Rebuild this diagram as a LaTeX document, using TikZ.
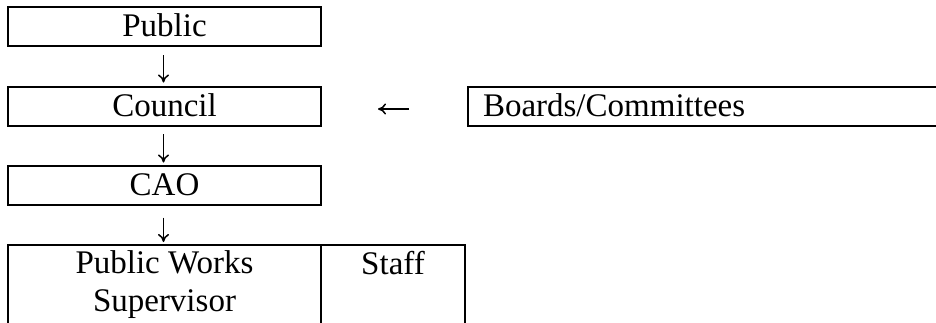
\documentclass[tikz,border=0pt]{standalone}
\usepackage{fontspec}
\setmainfont{Liberation Serif}
\usetikzlibrary{arrows.meta}
\begin{document}
\begin{tikzpicture}[x=1pt,y=-1pt,
  box/.style={draw=black,line width=2pt,inner sep=0pt,outer sep=0pt,
    text height=30pt,text depth=9pt,minimum height=39pt},
  txt/.style={inner sep=0pt,outer sep=0pt},
  arr/.style={line width=1.5pt,-{To[length=8pt,width=11pt]}},
  every node/.style={font=\fontsize{33}{38}\selectfont}]
\useasboundingbox (0,0) rectangle (936,322);
\clip (0,0) rectangle (936,322);
\node[box,minimum width=313pt] (public) at (164.5,26) {Public};
\node[box,minimum width=313pt] (council) at (164.5,106) {Council};
\node[box,minimum width=313pt] (cao) at (164.5,185) {CAO};
\node[box,minimum width=580pt,text width=550pt,inner xsep=15pt,align=left,anchor=west] (boards) at (468,106) {Boards/Committees};
\node[box,minimum width=313pt,minimum height=100pt,text height=,text depth=,anchor=north west] (pw) at (8,245) {};
\node[box,minimum width=144pt,minimum height=100pt,text height=,text depth=,anchor=north west] (staff) at (321,245) {};
\node[txt,anchor=base] (pwt1) at (164.5,273) {Public Works};
\node[txt,anchor=base] (pwt2) at (164.5,311) {Supervisor};
\node[txt,anchor=base] (stafft) at (393,274) {Staff};
\draw[arr,shorten <=9.5pt,shorten >=4pt] ([xshift=-1pt]public.south) -- ([xshift=-1pt]council.north);
\draw[arr,shorten <=8.5pt,shorten >=3pt] ([xshift=-1pt]council.south) -- ([xshift=-1pt]cao.north);
\draw[arr,shorten <=13pt,shorten >=3pt] ([xshift=-1pt]cao.south) -- ([xshift=-1pt]pw.north);
\draw[arr,shorten <=59pt,shorten >=57pt] ([yshift=-3pt]boards.west) -- ([yshift=-3pt]council.east);
\end{tikzpicture}
\end{document}
